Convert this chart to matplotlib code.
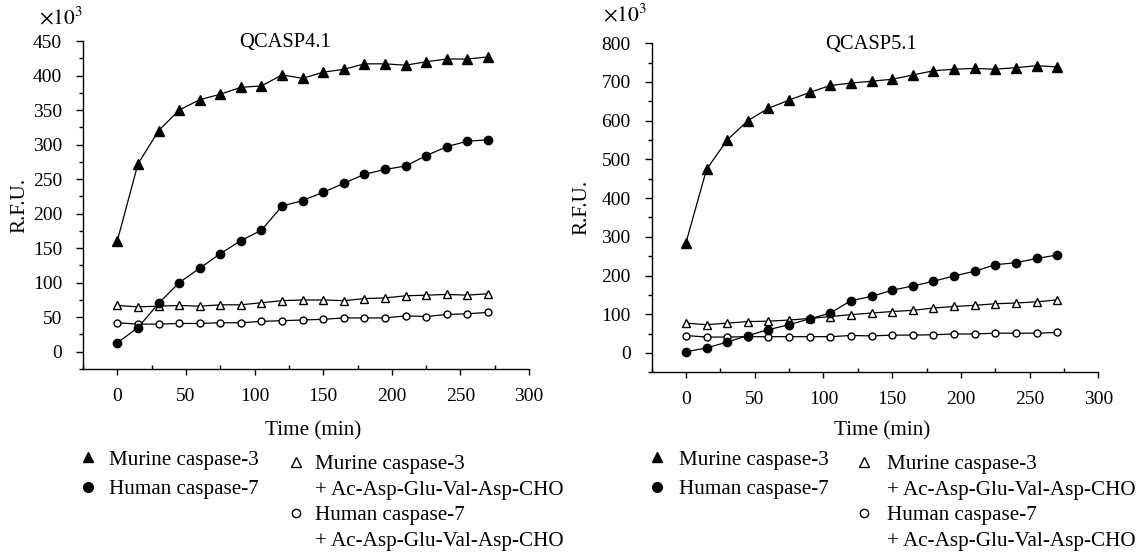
import matplotlib
matplotlib.use("Agg")
import matplotlib.pyplot as plt
from matplotlib.lines import Line2D
from matplotlib.ticker import MultipleLocator

plt.rcParams['font.family'] = ['Liberation Serif', 'DejaVu Serif']
plt.rcParams['mathtext.fontset'] = 'stix'

time_min = [0, 15, 30, 45, 60, 75, 90, 105, 120, 135, 150, 165, 180, 195, 210, 225, 240, 255, 270]

# QCASP4.1 (x10^3 R.F.U.)
q4_murine = [161, 272, 320, 350, 365, 373, 383, 385, 401, 396, 405, 409, 417, 417, 415, 420, 424, 424, 427]
q4_human = [13, 35, 70, 100, 121, 142, 161, 176, 211, 219, 231, 244, 257, 264, 269, 284, 297, 305, 307]
q4_murine_inh = [67, 65, 66, 67, 66, 68, 68, 71, 74, 75, 75, 74, 77, 78, 81, 82, 83, 82, 84]
q4_human_inh = [42, 40, 40, 41, 41, 42, 42, 44, 45, 46, 47, 49, 49, 49, 52, 51, 54, 55, 57]

# QCASP5.1 (x10^3 R.F.U.)
q5_murine = [284, 474, 550, 600, 632, 653, 673, 691, 697, 702, 707, 718, 729, 733, 735, 733, 737, 742, 739]
q5_human = [3, 13, 28, 45, 60, 73, 88, 103, 135, 146, 162, 173, 185, 199, 211, 228, 233, 244, 253]
q5_murine_inh = [77, 73, 77, 81, 82, 85, 89, 94, 99, 103, 107, 110, 116, 120, 123, 127, 129, 132, 137]
q5_human_inh = [45, 41, 41, 42, 42, 42, 42, 42, 45, 44, 46, 46, 47, 49, 49, 51, 51, 51, 53]

titles = ["QCASP4.1", "QCASP5.1"]
xticks = [0, 50, 100, 150, 200, 250, 300]
yticks_left = [0, 50, 100, 150, 200, 250, 300, 350, 400, 450]
yticks_right = [0, 100, 200, 300, 400, 500, 600, 700, 800]
label_filled = ["Murine caspase-3", "Human caspase-7"]
label_open = ["Murine caspase-3", "+ Ac-Asp-Glu-Val-Asp-CHO",
              "Human caspase-7", "+ Ac-Asp-Glu-Val-Asp-CHO"]

FS = 14        # tick labels
LFS = 15.2     # legend / axis labels
TFS = 14.8     # titles
fig = plt.figure(figsize=(11.44, 5.54), dpi=100)
axL = fig.add_axes([0.0726, 0.3339, 0.3899, 0.5920])
axR = fig.add_axes([0.5695, 0.3280, 0.3907, 0.5939])

panels = [
    (axL, q4_murine, q4_human, q4_murine_inh, q4_human_inh, (-25, 450), yticks_left, 25),
    (axR, q5_murine, q5_human, q5_murine_inh, q5_human_inh, (-50, 800), yticks_right, 50),
]
# per-panel layout settings
title_x = [0.452, 0.491]
xlab_y = [-0.159, -0.148]
ylab_x = [-0.121, -0.135]
mult_pos = [(-0.0987, 1.070), (-0.1085, 1.086)]
leg1_anchor = [(-0.0123, -0.247), (-0.0112, -0.236)]
leg1_pad = [0.49, 0.52]
leg2_anchor = [(0.454, -0.261), (0.451, -0.25)]
leg2_pad = [0.40, 0.61]

lw = 0.9
for i, (ax, m, h, mi, hi, ylim, yt, ymin) in enumerate(panels):
    ax.plot(time_min, mi, '-', color='black', lw=lw, marker='^', ms=6.0,
            mfc='white', mec='black', mew=1.0, zorder=3)
    ax.plot(time_min, hi, '-', color='black', lw=lw, marker='o', ms=5.0,
            mfc='white', mec='black', mew=1.0, zorder=3)
    ax.plot(time_min, h, '-', color='black', lw=lw, marker='o', ms=6.0,
            mfc='black', mec='black', zorder=4)
    ax.plot(time_min, m, '-', color='black', lw=lw, marker='^', ms=6.6,
            mfc='black', mec='black', zorder=4)
    ax.set_xlim(-25, 300)
    ax.set_ylim(*ylim)
    ax.set_xticks(xticks)
    ax.set_yticks(yt)
    ax.xaxis.set_minor_locator(MultipleLocator(25))
    ax.yaxis.set_minor_locator(MultipleLocator(ymin))
    ax.spines['top'].set_visible(False)
    ax.spines['right'].set_visible(False)
    for s in ('left', 'bottom'):
        ax.spines[s].set_linewidth(1.0)
    ax.tick_params(axis='x', which='major', direction='out', length=4, width=1.0,
                   pad=9.5, labelsize=FS)
    ax.tick_params(axis='x', which='minor', direction='in', length=3, width=1.0)
    ax.tick_params(axis='y', which='major', direction='out', length=5, width=1.0,
                   pad=10, labelsize=FS)
    ax.tick_params(axis='y', which='minor', direction='out', length=3, width=1.0)
    ax.set_xlabel("Time (min)", fontsize=LFS)
    ax.xaxis.set_label_coords(0.516, xlab_y[i])
    ax.set_ylabel("R.F.U.", fontsize=LFS)
    ax.yaxis.set_label_coords(ylab_x[i], 0.5)
    ax.text(title_x[i], 0.995, titles[i], transform=ax.transAxes, fontsize=TFS,
            ha='center', va='center')
    ax.text(mult_pos[i][0], mult_pos[i][1], r"$\times 10^3$", transform=ax.transAxes,
            fontsize=15.5, ha='left', va='center')

    filled_handles = [
        Line2D([], [], ls='none', marker='^', ms=7.2, mfc='black', mec='black'),
        Line2D([], [], ls='none', marker='o', ms=7, mfc='black', mec='black'),
    ]
    open_handles = [
        Line2D([], [], ls='none', marker='^', ms=7, mfc='white', mec='black', mew=1.0),
        Line2D([], [], ls='none', marker=None),
        Line2D([], [], ls='none', marker='o', ms=6, mfc='white', mec='black', mew=1.0),
        Line2D([], [], ls='none', marker=None),
    ]
    leg1 = ax.legend(filled_handles, label_filled, loc='upper left',
                     bbox_to_anchor=leg1_anchor[i], frameon=False, fontsize=LFS,
                     handlelength=1.0, handletextpad=leg1_pad[i], labelspacing=0.46,
                     borderpad=0, borderaxespad=0)
    ax.add_artist(leg1)
    ax.legend(open_handles, label_open, loc='upper left',
              bbox_to_anchor=leg2_anchor[i], frameon=False, fontsize=LFS,
              handlelength=1.0, handletextpad=leg2_pad[i], labelspacing=0.27,
              borderpad=0, borderaxespad=0)

fig.savefig("out.png", dpi=100)
